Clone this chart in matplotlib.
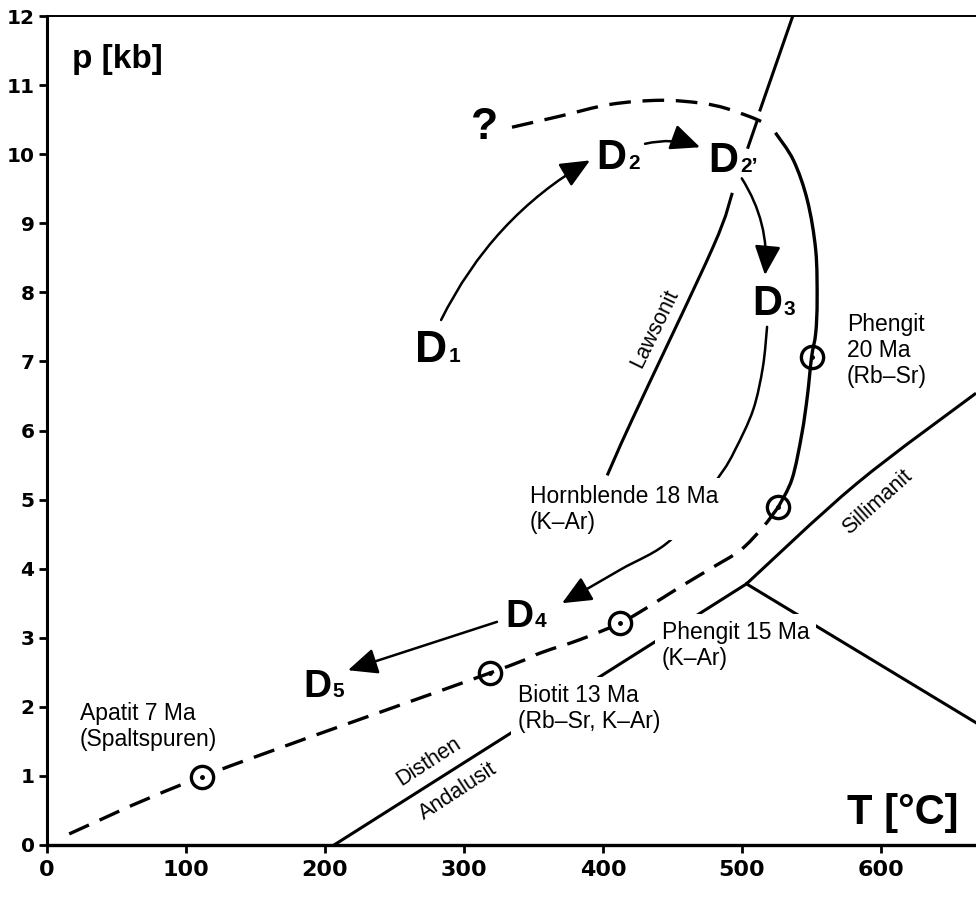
import matplotlib
matplotlib.use("Agg")
import matplotlib.pyplot as plt
from matplotlib.patches import FancyArrowPatch, PathPatch
from matplotlib.path import Path

plt.rcParams['font.family'] = ['Liberation Sans', 'DejaVu Sans']

# ---------------- data (T in °C, p in kb) ----------------
x_ticks = [0, 100, 200, 300, 400, 500, 600]
y_ticks = [0, 1, 2, 3, 4, 5, 6, 7, 8, 9, 10, 11, 12]

# P-T path: dashed prograde part, solid peak part, dashed retrograde part
path_up_T = [334.5, 369, 405, 441, 470, 489, 512, 520]
path_up_p = [10.39, 10.55, 10.72, 10.78, 10.74, 10.66, 10.49, 10.38]
path_mid_T = [524, 537, 547, 553, 554, 553, 550, 547, 543, 536, 526]
path_mid_p = [10.31, 9.91, 9.33, 8.61, 7.89, 7.41, 7.06, 6.5, 5.95, 5.3, 4.89]
path_low_T = [526, 515, 499, 479, 455, 432, 412, 383, 355, 318.7, 111.5, 9.4]
path_low_p = [4.89, 4.60, 4.27, 4.02, 3.73, 3.44, 3.21, 2.97, 2.78, 2.49, 0.99, 0.1]

# Al2SiO5 phase boundaries
kyand_T = [206.5, 503.2]
kyand_p = [0.0, 3.78]
kysil_T = [503.2, 582.4, 668.3]
kysil_p = [3.78, 5.23, 6.54]
andsil_T = [503.2, 668.3]
andsil_p = [3.78, 1.77]

# Lawsonit line
laws_T = [493, 479, 421, 403]
laws_p = [9.44, 8.65, 6.16, 5.35]

# steep reaction line at the top
steep_T = [536.5, 513]
steep_p = [12.0, 10.64]
steep_dash_T = [510.8, 504.3]
steep_dash_p = [10.48, 10.1]

# age points
age_T = [111.5, 318.7, 412, 526, 550]
age_p = [0.99, 2.49, 3.21, 4.89, 7.06]
age_filled = [True, False, True, False, False]
age_labels = ["Apatit 7 Ma\n(Spaltspuren)", "Biotit 13 Ma\n(Rb–Sr, K–Ar)",
              "Phengit 15 Ma\n(K–Ar)", "Hornblende 18 Ma\n(K–Ar)",
              "Phengit\n20 Ma\n(Rb–Sr)"]
label_T = [23.7, 338.8, 442.4, 347.5, 575.5]
label_p = [1.72, 1.98, 2.89, 4.86, 7.16]
label_mask = [False, True, True, True, False]

# deformation stages
stage_sub = ["1", "2", "2’", "3", "4", "5"]
stage_T = [264.7, 395.4, 475.8, 507, 329.5, 184.2]
stage_p = [6.99, 9.79, 9.74, 7.67, 3.16, 2.14]
stage_size = [32, 30, 30, 30, 28, 28]

# arrows between stages (start, end, curvature)
arrow_T0 = [283.5, 430.2, 499.8, 323.7]
arrow_p0 = [7.60, 10.15, 9.65, 3.23]
arrow_T1 = [390.6, 469.8, 516.5, 216.5]
arrow_p1 = [9.91, 10.10, 8.25, 2.53]
arrow_rad = [-0.15, -0.15, -0.17, 0.0]

# D3 -> D4 curved arrow
d34_T = [518, 515, 508, 495, 484, 450, 412, 370.5]
d34_p = [7.5, 6.92, 6.3, 5.72, 5.35, 4.44, 3.98, 3.5]

# rotated field labels
field_labels = ["Disthen", "Andalusit", "Sillimanit", "Lawsonit"]
field_T = [274.5, 295.7, 597, 437.4]
field_p = [1.21, 0.78, 4.96, 7.48]
field_rot = [33, 33, 42, 64]


def smooth_path(xs, ys):
    """Catmull-Rom curve through the given points as cubic Bezier path."""
    pts = list(zip(xs, ys))
    n = len(pts)
    verts = [pts[0]]
    codes = [Path.MOVETO]
    for i in range(n - 1):
        p0 = pts[i - 1] if i > 0 else pts[i]
        p1 = pts[i]
        p2 = pts[i + 1]
        p3 = pts[i + 2] if i + 2 < n else pts[i + 1]
        c1 = (p1[0] + (p2[0] - p0[0]) / 6.0, p1[1] + (p2[1] - p0[1]) / 6.0)
        c2 = (p2[0] - (p3[0] - p1[0]) / 6.0, p2[1] - (p3[1] - p1[1]) / 6.0)
        verts += [c1, c2, p2]
        codes += [Path.CURVE4, Path.CURVE4, Path.CURVE4]
    return Path(verts, codes)


# ---------------- figure ----------------
fig = plt.figure(figsize=(9.76, 8.99), dpi=100)
ax = fig.add_axes([47 / 976, 54 / 899, (976 - 47) / 976, (845 - 16) / 899])
ax.set_xlim(0, 668.3)
ax.set_ylim(0, 12)

ax.spines['right'].set_visible(False)
ax.spines['top'].set_linewidth(1.4)
ax.spines['left'].set_linewidth(2.2)
ax.spines['bottom'].set_linewidth(2.4)
ax.set_xticks(x_ticks)
ax.set_yticks(y_ticks)
ax.tick_params(direction='out', length=6, width=2, colors='black')
ax.tick_params(axis='x', pad=5)
ax.tick_params(axis='y', pad=3)
for lab in ax.get_xticklabels():
    lab.set_fontfamily('DejaVu Sans')
    lab.set_fontweight('bold')
    lab.set_fontsize(16)
for lab in ax.get_yticklabels():
    lab.set_fontfamily('DejaVu Sans')
    lab.set_fontweight('bold')
    lab.set_fontsize(14.5)

lw_main = 2.4
dash = (6.5, 3.5)

# P-T path
ax.add_patch(PathPatch(smooth_path(path_up_T, path_up_p), fill=False, color='black',
                       lw=lw_main, linestyle=(0, dash), capstyle='butt', zorder=3))
ax.add_patch(PathPatch(smooth_path(path_mid_T, path_mid_p), fill=False, color='black',
                       lw=lw_main, zorder=3))
ax.add_patch(PathPatch(smooth_path(path_low_T, path_low_p), fill=False, color='black',
                       lw=lw_main, linestyle=(0, dash), capstyle='butt', zorder=3))

# phase boundaries and reaction lines
ax.plot(kyand_T, kyand_p, color='black', lw=2.2, zorder=2)
ax.add_patch(PathPatch(smooth_path(kysil_T, kysil_p), fill=False, color='black',
                       lw=2.2, zorder=2))
ax.plot(andsil_T, andsil_p, color='black', lw=2.2, zorder=2)
ax.add_patch(PathPatch(smooth_path(laws_T, laws_p), fill=False, color='black',
                       lw=2.2, zorder=2))
ax.plot(steep_T, steep_p, color='black', lw=2.2, zorder=2)
ax.plot(steep_dash_T, steep_dash_p, color='black', lw=2.2, zorder=2)

# age circles
for T, p, filled in zip(age_T, age_p, age_filled):
    ax.plot([T], [p], marker='o', ms=16, mew=2.4, mec='black',
            mfc='white' if filled else 'none', zorder=6)
    ax.plot([T], [p], marker='o', ms=2.5, color='black', zorder=7)

# age labels
for txt, T, p, m in zip(age_labels, label_T, label_p, label_mask):
    kw = {}
    if m:
        kw['bbox'] = dict(facecolor='white', edgecolor='none', pad=5)
    ax.text(T, p, txt, ha='left', va='center', fontsize=16.5,
            linespacing=1.15, zorder=5, **kw)

# stage labels D with subscripts
for sub, T, p, fs in zip(stage_sub, stage_T, stage_p, stage_size):
    ax.text(T, p, "D", fontsize=fs, fontweight='bold', ha='left',
            va='baseline', zorder=8)
    ax.annotate(sub, xy=(T, p), xytext=(0.76 * fs, 0), textcoords='offset points',
                fontsize=15, fontweight='bold', ha='left', va='baseline', zorder=8)

# arrows
astyle = '-|>,head_length=0.9,head_width=0.4'
for T0, p0, T1, p1, rad in zip(arrow_T0, arrow_p0, arrow_T1, arrow_p1, arrow_rad):
    arr = FancyArrowPatch((T0, p0), (T1, p1), arrowstyle=astyle,
                          connectionstyle='arc3,rad=%s' % rad,
                          mutation_scale=20, lw=1.8, color='black',
                          shrinkA=0, shrinkB=0, zorder=4)
    ax.add_patch(arr)

arr = FancyArrowPatch(path=smooth_path(d34_T, d34_p), arrowstyle=astyle,
                      mutation_scale=20, lw=1.8, color='black', zorder=4,
                      transform=ax.transData)
ax.add_patch(arr)

# rotated field labels
for txt, T, p, rot in zip(field_labels, field_T, field_p, field_rot):
    ax.text(T, p, txt, rotation=rot, rotation_mode='anchor', ha='center',
            va='center', fontsize=15.5, zorder=5)

# question mark, axis labels
ax.text(315, 10.39, "?", fontsize=32, fontweight='bold', ha='center', va='center')
ax.text(18, 11.37, "p [kb]", fontsize=24, fontweight='bold', ha='left', va='center')
ax.text(656, 0.46, "T [°C]", fontsize=30, fontweight='bold', ha='right', va='center')

fig.savefig("out.png", dpi=100)
